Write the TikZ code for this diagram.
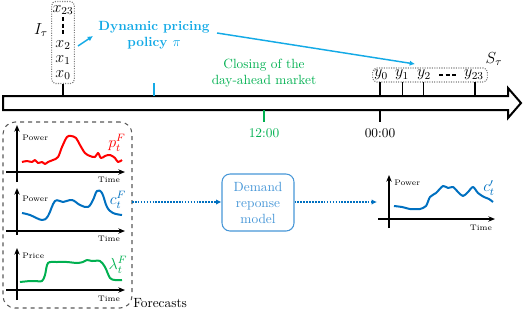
\documentclass[tikz,border=0pt]{standalone}
\usetikzlibrary{arrows.meta}
\definecolor{dyn}{RGB}{20,170,230}
\definecolor{cblue}{RGB}{0,112,192}
\definecolor{dblue}{RGB}{70,150,215}
\definecolor{cgreen}{RGB}{0,176,80}
\definecolor{cred}{RGB}{255,0,0}
\begin{document}
\begin{tikzpicture}[x=0.75pt,y=-0.75pt,
  gbox/.style={draw=gray, densely dotted, rounded corners=3pt, thick, inner sep=0pt},
  axisline/.style={line width=1.1pt, -{Stealth[length=5pt,width=4pt]}},
  tickline/.style={line width=1.4pt},
  curve/.style={line width=1.5pt, smooth, line join=round},
  tiny6/.style={font=\fontsize{6}{7}\selectfont, inner sep=0pt},
  mlab/.style={font=\large, inner sep=0pt},
  dotarrow/.style={cblue, densely dotted, line width=1.2pt, -{Latex[length=4pt,width=4pt]}}]
\useasboundingbox (0,0) rectangle (524,312);

% timeline arrow
\draw[line width=1.5pt, line join=miter] (3,96) -- (508,96) -- (508,88) -- (521,103) -- (508,118) -- (508,110) -- (3,110) -- cycle;

% input box x
\node[gbox, minimum width=17pt, minimum height=61.5pt] (xbox) at (63,42.5) {};
\node[mlab] (x23) at (63,10) {$x_{23}$};
\coordinate (xd1) at (63,17);
\coordinate (xd2) at (63,36);
\draw[line width=1.2pt, dash pattern=on 3pt off 2pt] (xd1) -- (xd2);
\node[mlab] (x2) at (63,45) {$x_2$};
\node[mlab] (x1) at (63,60) {$x_1$};
\node[mlab] (x0) at (63,75) {$x_0$};
\node[mlab] (Itau) at (41,30) {$I_\tau$};
\coordinate (tx) at (63,96);
\draw[tickline] (xbox.south) -- (tx);

% dynamic pricing
\node[dyn, font=\bfseries, align=center, inner sep=1pt] (dp) at (154,35) {Dynamic pricing\\policy $\pi$};
\coordinate (xa) at (78,46);
\coordinate (da) at (93,36);
\draw[dyn, line width=1.1pt, -{Latex[length=4pt,width=4pt]}] (xa) -- (da);
\coordinate (ds) at (217,33);
\coordinate (ye) at (415,64);
\draw[dyn, line width=1.1pt, -{Latex[length=4pt,width=4pt]}] (ds) -- (ye);
\coordinate (bt1) at (154,83);
\coordinate (bt2) at (154,96);
\draw[dyn, tickline] (bt1) -- (bt2);

% closing market
\node[cgreen, align=center, inner sep=0pt] (close) at (264,73) {Closing of the\\day-ahead market};
\coordinate (gt1) at (264,110);
\coordinate (gt2) at (264,122);
\draw[cgreen, tickline] (gt1) -- (gt2);
\node[cgreen] (t12) at (264,133) {12:00};
\coordinate (kt1) at (380,110);
\coordinate (kt2) at (380,122);
\draw[tickline] (kt1) -- (kt2);
\node (t00) at (380,133) {00:00};

% output box y
\node[gbox, minimum width=86pt, minimum height=10.5pt] (ybox) at (430,75) {};
\node[mlab] (y0) at (381,75) {$y_0$};
\node[mlab] (y1) at (402,75) {$y_1$};
\node[mlab] (y2) at (424,75) {$y_2$};
\coordinate (yd1) at (439,75);
\coordinate (yd2) at (456,75);
\draw[line width=1.2pt, dash pattern=on 3pt off 2pt] (yd1) -- (yd2);
\node[mlab] (y23) at (474,75) {$y_{23}$};
\node[mlab] (Stau) at (494,59) {$S_\tau$};
\foreach \xx/\nm in {380/a,402.5/b,423.5/c,475/d}{
  \coordinate (yt\nm1) at (\xx,82);
  \coordinate (yt\nm2) at (\xx,96);
  \draw[tickline] (yt\nm1) -- (yt\nm2);
}

% forecasts box
\node[draw=gray!70!black, dashed, line width=0.8pt, rounded corners=9pt, minimum width=96.75pt, minimum height=139.5pt] (fbox) at (67.5,215) {};
\node[anchor=west, inner sep=0pt] (fc) at (133,303) {Forecasts};

% plot 1
\coordinate (a1b) at (17,182); \coordinate (a1t) at (17,125);
\coordinate (a1l) at (6,172); \coordinate (a1r) at (125,172);
\draw[axisline] (a1b) -- (a1t);
\draw[axisline] (a1l) -- (a1r);
\node[tiny6, anchor=west] (pw1) at (22,138) {Power};
\node[tiny6] (tm1) at (109,180) {Time};
\draw[cred, curve] plot[tension=0.6] coordinates {(22,162) (27,161) (32,162) (35,160) (38,163) (42,162) (45,164) (48,162) (53,160) (58,157) (62,147) (67,137) (71,136) (76,138) (80,145) (85,153) (90,156) (95,157) (98,153) (101,158) (105,156) (110,155) (115,158) (118,162) (122,160)};
\node[cred, mlab] (pF) at (117,143) {$p_t^F$};

% plot 2
\coordinate (a2b) at (17,235); \coordinate (a2t) at (17,188);
\coordinate (a2l) at (6,231); \coordinate (a2r) at (125,231);
\draw[axisline] (a2b) -- (a2t);
\draw[axisline] (a2l) -- (a2r);
\node[tiny6, anchor=west] (pw2) at (22,199) {Power};
\node[tiny6] (tm2) at (109,239) {Time};
\draw[cblue, curve] plot[tension=0.6] coordinates {(22,213) (30,215) (42,220) (48,216) (55,201) (63,202) (72,200) (80,205) (88,207) (93,200) (97,191) (102,193) (107,207) (113,213) (122,215)};
\node[cblue, mlab] (cF) at (118,200) {$c_t^F$};

% plot 3
\coordinate (a3b) at (17,300); \coordinate (a3t) at (17,248);
\coordinate (a3l) at (6,290); \coordinate (a3r) at (125,290);
\draw[axisline] (a3b) -- (a3t);
\draw[axisline] (a3l) -- (a3r);
\node[tiny6, anchor=west] (pr3) at (22,256) {Price};
\node[tiny6] (tm3) at (109,299) {Time};
\draw[cgreen, curve] plot[tension=0.5] coordinates {(20,282) (30,281) (35,281) (42,281) (45,275) (48,263) (57,262) (67,262) (77,263) (83,262) (87,260) (92,261) (100,261) (105,267) (110,278) (115,280) (122,280)};
\node[cgreen, mlab] (lF) at (118,265) {$\lambda_t^F$};

% demand response
\node[draw=dblue, text=dblue, rounded corners=6pt, line width=0.8pt, align=center, minimum width=54pt, minimum height=42.75pt, inner sep=1pt] (dm) at (258,202.5) {Demand\\reponse\\model};
\coordinate (fout) at (132,202);
\coordinate (c4in) at (377,202);
\draw[dotarrow] (fout) -- (dm.west |- fout);
\draw[dotarrow] (dm.east |- c4in) -- (c4in);

% plot 4
\coordinate (a4b) at (389,228); \coordinate (a4t) at (389,175);
\coordinate (a4l) at (378,219); \coordinate (a4r) at (495,219);
\draw[axisline] (a4b) -- (a4t);
\draw[axisline] (a4l) -- (a4r);
\node[tiny6, anchor=west] (pw4) at (394,183) {Power};
\node[tiny6] (tm4) at (481,228) {Time};
\draw[cblue, curve] plot[tension=0.5] coordinates {(394,206) (402,207) (410,209) (416,209) (420,209) (426,206) (430,197) (436,193) (443,186) (448,188) (453,187) (458,192) (463,196) (468,192) (473,187) (478,193) (484,197) (489,199) (493,202)};
\node[cblue, mlab] (c4) at (489,188) {$c_t'$};
\end{tikzpicture}
\end{document}
